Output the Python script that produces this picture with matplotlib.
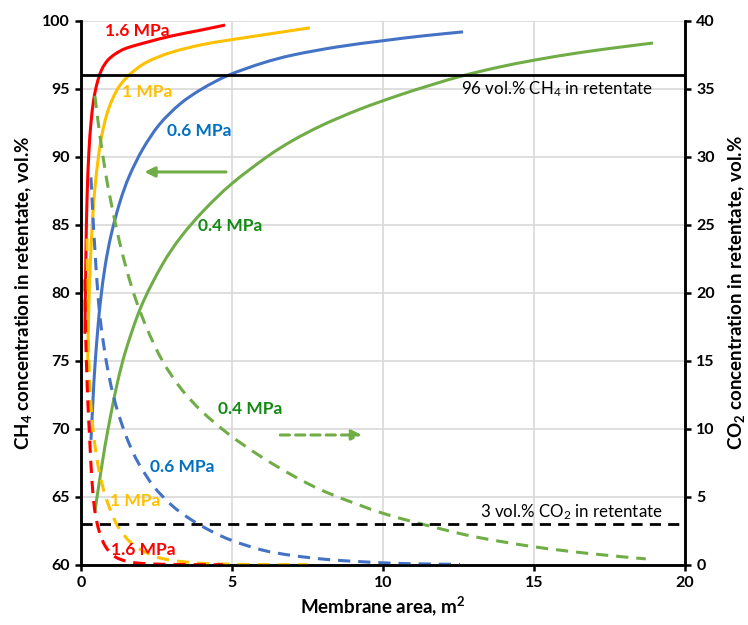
import matplotlib
matplotlib.use("Agg")
import numpy as np
import matplotlib.pyplot as plt
from matplotlib.path import Path
from matplotlib.patches import PathPatch

plt.rcParams['font.family'] = ['Lato', 'DejaVu Sans']
plt.rcParams['mathtext.fontset'] = 'custom'
plt.rcParams['mathtext.rm'] = 'Lato'
plt.rcParams['mathtext.bf'] = 'Lato:bold'
plt.rcParams['mathtext.it'] = 'Lato:italic'

# CH4 concentration in retentate (left axis), vol.%
x_ch4_16 = [0.13, 0.16, 0.20, 0.26, 0.33, 0.42, 0.53, 0.68, 0.88, 1.15, 1.5, 2.2, 3.0, 3.9, 4.77]
y_ch4_16 = [77.0, 82.5, 87.0, 90.3, 92.5, 94.2, 95.4, 96.4, 97.1, 97.6, 98.0, 98.45, 98.9, 99.3, 99.7]

x_ch4_10 = [0.22, 0.26, 0.31, 0.38, 0.46, 0.56, 0.68, 0.85, 1.05, 1.3, 1.68, 2.2, 3.0, 4.1, 5.5, 7.58]
y_ch4_10 = [74.9, 79.0, 82.3, 85.3, 87.7, 89.7, 91.5, 93.1, 94.3, 95.3, 96.2, 97.0, 97.7, 98.3, 98.8, 99.5]

x_ch4_06 = [0.33, 0.40, 0.46, 0.55, 0.65, 0.8, 1.0, 1.29, 1.6, 2.05, 2.6, 3.28, 4.0, 4.87, 6.0, 7.02, 8.5, 10.0, 11.3, 12.65]
y_ch4_06 = [69.2, 72.3, 74.6, 77.2, 79.5, 82.0, 84.3, 86.7, 88.6, 90.6, 92.4, 93.9, 95.0, 96.0, 96.9, 97.5, 98.1, 98.55, 98.9, 99.2]

x_ch4_04 = [0.46, 0.7, 0.9, 1.2, 1.5, 2.0, 2.67, 3.3, 4.1, 5.0, 6.15, 7.0, 8.0, 9.24, 10.5, 11.6, 12.65, 13.8, 15.03, 16.5, 18.0, 18.94]
y_ch4_04 = [63.95, 67.45, 70.05, 73.35, 75.9, 79.05, 82.0, 84.1, 86.15, 88.05, 90.0, 91.2, 92.35, 93.52, 94.52, 95.3, 95.98, 96.59, 97.13, 97.67, 98.12, 98.38]

# CO2 concentration in retentate (right axis), vol.%
x_co2_16 = [0.13, 0.14, 0.16, 0.19, 0.23, 0.28, 0.33, 0.39, 0.47, 0.6, 0.8, 1.1, 1.5, 2.0, 3.0, 4.7]
y_co2_16 = [21.0, 19.0, 16.5, 14.2, 11.8, 9.6, 7.4, 5.4, 3.8, 2.5, 1.4, 0.65, 0.28, 0.12, 0.04, 0.02]

x_co2_10 = [0.20, 0.21, 0.23, 0.26, 0.30, 0.37, 0.46, 0.6, 0.79, 1.0, 1.23, 1.6, 2.0, 2.5, 3.0, 4.0, 5.5, 7.5]
y_co2_10 = [24.0, 21.0, 18.0, 15.0, 12.8, 10.6, 8.8, 6.9, 5.2, 3.9, 2.8, 1.75, 1.1, 0.6, 0.35, 0.12, 0.04, 0.02]

x_co2_06 = [0.33, 0.39, 0.46, 0.54, 0.63, 0.75, 0.9, 1.1, 1.3, 1.56, 1.9, 2.4, 3.0, 3.6, 4.3, 5.0, 6.0, 7.0, 8.3, 10.0, 11.3, 12.55]
y_co2_06 = [28.5, 25.8, 23.2, 20.5, 18.2, 16.2, 14.2, 12.2, 10.7, 9.1, 7.5, 5.8, 4.4, 3.4, 2.5, 1.8, 1.1, 0.7, 0.38, 0.16, 0.08, 0.05]

x_co2_04 = [0.46, 0.6, 0.8, 1.0, 1.25, 1.5, 1.8, 2.2, 2.7, 3.3, 4.0, 4.9, 5.8, 6.6, 7.5, 8.4, 10.0, 11.66, 13.1, 14.97, 16.8, 18.7]
y_co2_04 = [34.5, 32.0, 29.0, 26.6, 24.0, 21.8, 19.6, 17.3, 15.0, 13.0, 11.3, 9.6, 8.2, 7.1, 6.0, 5.1, 3.8, 2.8, 2.05, 1.35, 0.85, 0.45]

ch4_target = 96
co2_target = 3

x_ticks = [0, 5, 10, 15, 20]
left_ticks = [60, 65, 70, 75, 80, 85, 90, 95, 100]
right_ticks = [0, 5, 10, 15, 20, 25, 30, 35, 40]

RED, YELLOW, BLUE, GREEN = '#FF0000', '#FFC000', '#4472C4', '#70AD47'
BLUE_TXT, GREEN_TXT = '#0070C0', '#138A13'


def smooth_line(axis, xs, ys, **kw):
    """Draw a smoothed (Catmull-Rom / cubic Bezier) line through the points."""
    pts = np.column_stack([xs, ys]).astype(float)
    n = len(pts)
    verts = [pts[0]]
    codes = [Path.MOVETO]
    for i in range(n - 1):
        p0 = pts[i - 1] if i > 0 else pts[i]
        p1 = pts[i]
        p2 = pts[i + 1]
        p3 = pts[i + 2] if i + 2 < n else pts[i + 1]
        verts += [p1 + (p2 - p0) / 6.0, p2 - (p3 - p1) / 6.0, p2]
        codes += [Path.CURVE4] * 3
    patch = PathPatch(Path(verts, codes), fill=False, transform=axis.transData, **kw)
    axis.add_patch(patch)
    return patch


fig = plt.figure(figsize=(7.48, 6.25), dpi=100)
ax = fig.add_axes([0.1083, 0.096, 0.8075, 0.8704])
ax2 = ax.twinx()

lw = 2.2
dash = (0, (4.0, 2.6))

smooth_line(ax, x_ch4_04, y_ch4_04, edgecolor=GREEN, lw=lw)
smooth_line(ax, x_ch4_06, y_ch4_06, edgecolor=BLUE, lw=lw)
smooth_line(ax, x_ch4_10, y_ch4_10, edgecolor=YELLOW, lw=lw)
smooth_line(ax, x_ch4_16, y_ch4_16, edgecolor=RED, lw=lw)

smooth_line(ax2, x_co2_04, y_co2_04, edgecolor=GREEN, lw=lw, ls=dash)
smooth_line(ax2, x_co2_06, y_co2_06, edgecolor=BLUE, lw=lw, ls=dash)
smooth_line(ax2, x_co2_10, y_co2_10, edgecolor=YELLOW, lw=lw, ls=dash)
smooth_line(ax2, x_co2_16, y_co2_16, edgecolor=RED, lw=lw, ls=dash)

ax.axhline(ch4_target, color='black', lw=2.0)
ax2.axhline(co2_target, color='black', lw=2.0, ls=(0, (4.0, 2.6)))

# axes limits and ticks
ax.set_xlim(0, 20)
ax.set_ylim(60, 100)
ax2.set_ylim(0, 40)
ax.set_xticks(x_ticks)
ax.set_yticks(left_ticks)
ax2.set_yticks(right_ticks)

ax.grid(True, color='#D9D9D9', lw=1.2)
ax.set_axisbelow(True)

for a in (ax, ax2):
    a.spines['top'].set_visible(False)
    for s in ('left', 'right', 'bottom'):
        a.spines[s].set_linewidth(1.8)
        a.spines[s].set_color('black')
    a.tick_params(direction='out', length=4, width=1.8, labelsize=11.5, pad=4)
    for lab in a.get_xticklabels() + a.get_yticklabels():
        lab.set_fontweight('bold')

ax.set_xlabel(r'Membrane area, m$^{\mathbf{2}}$', fontsize=13.5, fontweight='bold', labelpad=3)
ax.set_ylabel(r'CH$_{\mathbf{4}}$ concentration in retentate, vol.%', fontsize=13.5, fontweight='bold', labelpad=6)
ax2.set_ylabel(r'CO$_{\mathbf{2}}$ concentration in retentate, vol.%', fontsize=13.5, fontweight='bold', labelpad=8)

# curve labels
lab_kw = dict(fontsize=12.5, fontweight='bold', ha='center', va='center')
ax.text(1.85, 99.3, '1.6 MPa', color=RED, **lab_kw)
ax.text(2.2, 94.8, '1 MPa', color=YELLOW, **lab_kw)
ax.text(3.9, 91.9, '0.6 MPa', color=BLUE_TXT, **lab_kw)
ax.text(4.93, 84.9, '0.4 MPa', color=GREEN_TXT, **lab_kw)

ax2.text(5.6, 11.5, '0.4 MPa', color=GREEN_TXT, **lab_kw)
ax2.text(3.34, 7.2, '0.6 MPa', color=BLUE_TXT, **lab_kw)
ax2.text(1.79, 4.7, '1 MPa', color=YELLOW, **lab_kw)
ax2.text(2.05, 1.1, '1.6 MPa', color=RED, **lab_kw)

# axis indicator arrows
ax.annotate('', xy=(2.1, 88.9), xytext=(4.8, 88.9),
            arrowprops=dict(arrowstyle='-|>,head_length=0.6,head_width=0.3', color=GREEN, lw=2.2,
                            shrinkA=0, shrinkB=0))
ax2.annotate('', xy=(9.3, 9.56), xytext=(6.6, 9.56),
             arrowprops=dict(arrowstyle='-|>,head_length=0.6,head_width=0.3', color=GREEN, lw=2.2,
                             ls=(0, (3.0, 2.0)), shrinkA=0, shrinkB=0))

# target level notes
ax.text(18.94, 95.0, r'96 vol.% CH$_4$ in retentate', fontsize=12.2, ha='right', va='center', color='black')
ax2.text(19.27, 3.9, r'3 vol.% CO$_2$ in retentate', fontsize=12.2, ha='right', va='center', color='black')

fig.savefig('out.png', dpi=100)
